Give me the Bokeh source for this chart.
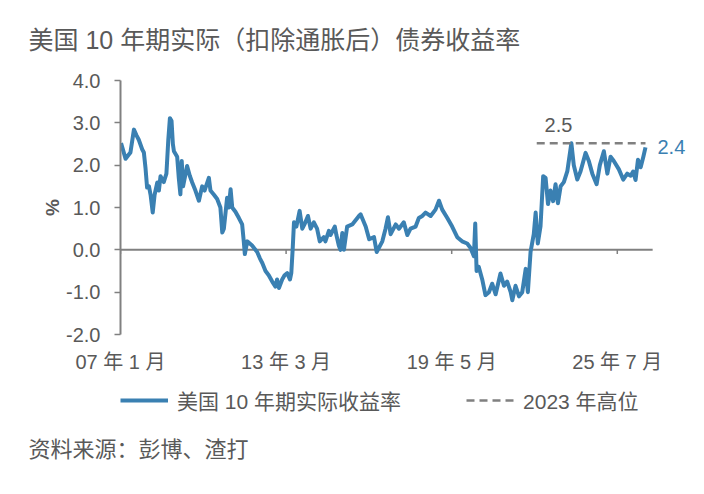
from bokeh.plotting import figure
from bokeh.layouts import column
from bokeh.models import Label, Legend, LegendItem, FixedTicker, NumeralTickFormatter, Title
from bokeh.embed import file_html
from bokeh.resources import INLINE

# ---- data (decimal years, % yield) ----
years = [
    2007.02, 2007.19, 2007.31, 2007.37, 2007.50, 2007.60, 2007.68, 2007.81, 2007.87, 2007.93,
    2007.99, 2008.06, 2008.12, 2008.20, 2008.27, 2008.37, 2008.43, 2008.49, 2008.61, 2008.71,
    2008.78, 2008.84, 2008.90, 2008.95, 2008.99, 2009.11, 2009.17, 2009.23, 2009.28, 2009.33,
    2009.48, 2009.58, 2009.67, 2009.79, 2009.92, 2010.04, 2010.13, 2010.29, 2010.35, 2010.48,
    2010.60, 2010.72, 2010.79, 2010.85, 2010.97, 2011.03, 2011.10, 2011.16, 2011.28, 2011.41,
    2011.53, 2011.59, 2011.63, 2011.72, 2011.90, 2012.09, 2012.19, 2012.28, 2012.40, 2012.52,
    2012.65, 2012.77, 2012.83, 2012.90, 2013.02, 2013.11, 2013.21, 2013.31, 2013.36, 2013.41,
    2013.46, 2013.55, 2013.67, 2013.77, 2013.85, 2013.98, 2014.08, 2014.20, 2014.32, 2014.42,
    2014.57, 2014.63, 2014.76, 2014.82, 2014.98, 2015.04, 2015.13, 2015.19, 2015.26, 2015.32,
    2015.44, 2015.63, 2015.88, 2015.94, 2016.13, 2016.26, 2016.44, 2016.54, 2016.75, 2016.87,
    2016.96, 2017.06, 2017.25, 2017.37, 2017.55, 2017.68, 2017.80, 2017.99, 2018.11, 2018.24,
    2018.36, 2018.55, 2018.73, 2018.86, 2018.98, 2019.17, 2019.35, 2019.54, 2019.72, 2019.91,
    2020.03, 2020.16, 2020.21, 2020.26, 2020.34, 2020.47, 2020.59, 2020.72, 2020.84, 2020.97,
    2021.15, 2021.28, 2021.40, 2021.53, 2021.59, 2021.71, 2021.84, 2021.96, 2022.09, 2022.17,
    2022.27, 2022.39, 2022.46, 2022.54, 2022.64, 2022.74, 2022.83, 2022.92, 2023.01, 2023.11,
    2023.20, 2023.29, 2023.39, 2023.51, 2023.64, 2023.79, 2023.88, 2024.01, 2024.13, 2024.32,
    2024.44, 2024.57, 2024.73, 2024.85, 2025.00, 2025.13, 2025.25, 2025.37, 2025.56, 2025.72,
    2025.87, 2026.00, 2026.09, 2026.18, 2026.27, 2026.37, 2026.47, 2026.55,
]
values = [
    2.52, 2.15, 2.25, 2.30, 2.84, 2.70, 2.60, 2.37, 2.30, 1.94,
    1.47, 1.50, 1.30, 0.88, 1.30, 1.59, 1.40, 1.74, 1.60, 1.80,
    2.60, 3.11, 3.05, 2.50, 2.33, 2.20, 1.70, 1.31, 2.10, 1.50,
    1.98, 1.75, 1.59, 1.40, 1.16, 1.50, 1.40, 1.70, 1.40, 1.30,
    1.20, 1.00, 0.41, 0.50, 1.23, 1.00, 1.43, 1.00, 0.90, 0.75,
    0.60, 0.20, -0.10, 0.20, 0.10, -0.05, -0.20, -0.31, -0.50, -0.60,
    -0.75, -0.87, -0.70, -0.90, -0.70, -0.60, -0.55, -0.70, -0.55, 0.00,
    0.65, 0.55, 0.92, 0.50, 0.60, 0.80, 0.50, 0.65, 0.50, 0.20,
    0.30, 0.20, 0.45, 0.35, 0.55, 0.35, 0.10, 0.00, 0.40, 0.00,
    0.55, 0.60, 0.80, 0.84, 0.55, 0.25, 0.30, -0.05, 0.20, 0.50,
    0.77, 0.37, 0.60, 0.50, 0.65, 0.35, 0.50, 0.55, 0.75, 0.80,
    0.88, 0.80, 0.95, 1.16, 0.95, 0.75, 0.55, 0.30, 0.20, 0.15,
    0.05, -0.15, 0.62, -0.50, -0.40, -0.70, -1.07, -1.00, -0.80, -1.05,
    -0.56, -0.85, -0.75, -1.00, -1.19, -0.85, -1.10, -1.00, -0.45, -1.00,
    -0.05, 0.37, 0.88, 0.15, 0.55, 1.74, 1.70, 1.08, 1.40, 1.15,
    1.55, 1.10, 1.50, 1.60, 1.86, 2.52, 2.00, 1.66, 1.85, 2.29,
    2.10, 1.80, 1.55, 2.00, 2.33, 1.80, 2.20, 2.10, 1.90, 1.66,
    1.80, 1.75, 1.85, 1.65, 2.13, 1.95, 2.20, 2.42,
]
x_tick_months = [0, 74, 148, 222]
x_tick_labels = ["07 年 1 月", "13 年 3 月", "19 年 5 月", "25 年 7 月"]
x_axis_end_month = 237.8
y_ticks = [-2, -1, 0, 1, 2, 3, 4]
high_2023 = 2.52
high_label = "2.5"
high_start_year = 2022.5
high_label_year = 2023.31
title_text = "美国 10 年期实际（扣除通胀后）债券收益率"
series_name = "美国 10 年期实际收益率"
high_name = "2023 年高位"
source_text = "资料来源：彭博、渣打"

FONT = "Liberation Sans, Noto Sans CJK SC"
BLUE = "#3a80b2"
TEXT = "#595959"
GRAY = "#808080"
SERIES_STYLE = dict(line_color=BLUE, line_width=4, line_join="round")
HIGH_STYLE = dict(line_color=GRAY, line_width=2.5, line_dash="8 5")


def to_month(y):
    return (y - 2007.0) * 12.0


xm = [to_month(y) for y in years]
high_x = [to_month(high_start_year), xm[-1]]
high_y = [high_2023, high_2023]

# ---------------- main chart ----------------
p = figure(width=696, height=375, output_backend="svg", toolbar_location=None,
           x_range=(0, 256.5), y_range=(-2, 4),
           min_border_left=120, min_border_right=2, min_border_top=79,
           min_border_bottom=40)
p.grid.visible = False
p.outline_line_color = None
p.background_fill_color = "white"

p.title = Title(text=title_text, align="left", offset=-92, standoff=50,
                vertical_align="top",
                text_font=FONT, text_font_size="25px", text_font_style="normal",
                text_color=TEXT)

ya = p.yaxis[0]
ya.ticker = FixedTicker(ticks=y_ticks)
ya.formatter = NumeralTickFormatter(format="0.0")
ya.axis_line_color = GRAY
ya.axis_line_width = 2
ya.major_tick_line_color = GRAY
ya.major_tick_line_width = 1.5
ya.major_tick_out = 6
ya.major_tick_in = 0
ya.minor_tick_line_color = None
ya.major_label_text_font = FONT
ya.major_label_text_font_size = "20px"
ya.major_label_text_color = TEXT
ya.major_label_standoff = 14
ya.axis_label = "%"
ya.axis_label_text_font = FONT
ya.axis_label_text_font_size = "19px"
ya.axis_label_text_font_style = "bold"
ya.axis_label_text_color = TEXT
ya.axis_label_standoff = 0

xa = p.xaxis[0]
xa.ticker = FixedTicker(ticks=x_tick_months)
xa.major_label_overrides = {t: l for t, l in zip(x_tick_months, x_tick_labels)}
xa.axis_line_color = None
xa.major_tick_line_color = None
xa.minor_tick_line_color = None
xa.major_label_text_font = FONT
xa.major_label_text_font_size = "20px"
xa.major_label_text_color = TEXT
xa.major_label_standoff = 10

# zero line with its ticks
p.segment(x0=[0], y0=[0], x1=[x_axis_end_month], y1=[0], line_color=GRAY, line_width=2)
p.segment(x0=x_tick_months, y0=[0] * len(x_tick_months), x1=x_tick_months,
          y1=[-0.1] * len(x_tick_months), line_color=GRAY, line_width=1.5)

p.line(xm, values, **SERIES_STYLE)
p.line(high_x, high_y, **HIGH_STYLE)

p.add_layout(Label(x=to_month(high_label_year), y=high_2023, y_offset=18, text=high_label,
                   text_align="center", text_baseline="middle", text_font=FONT,
                   text_font_size="20px", text_color=TEXT))
p.add_layout(Label(x=xm[-1], y=values[-1], x_offset=12, text=f"{values[-1]:.1f}",
                   text_align="left", text_baseline="middle", text_font=FONT,
                   text_font_size="20px", text_color=BLUE))

# ---------------- legend + source strip ----------------
# same series drawn again, but outside this strip's visible y range: only the legend shows
p2 = figure(width=696, height=111, output_backend="svg", toolbar_location=None,
            x_range=(0, 256.5), y_range=(10, 11), x_axis_location=None,
            y_axis_location=None, min_border_left=120, min_border_right=2,
            min_border_top=0, min_border_bottom=70)
p2.grid.visible = False
p2.outline_line_color = None
r_series = p2.line(xm, values, **SERIES_STYLE)
r_high = p2.line(high_x, high_y, **HIGH_STYLE)

legend = Legend(items=[LegendItem(label=series_name, renderers=[r_series]),
                       LegendItem(label=high_name, renderers=[r_high])],
                orientation="horizontal", location=(0, 1), glyph_width=48,
                label_standoff=9, spacing=65, padding=0, margin=0,
                border_line_color=None, background_fill_alpha=0,
                label_text_font=FONT, label_text_font_size="21px",
                label_text_color=TEXT)
p2.add_layout(legend)
p2.add_layout(Title(text=source_text, align="left", offset=-92, standoff=36,
                    text_font=FONT, text_font_size="22px", text_font_style="normal",
                    text_color=TEXT), "below")

layout = column(p, p2, spacing=0)
open("out.html", "w").write(file_html(layout, INLINE))
